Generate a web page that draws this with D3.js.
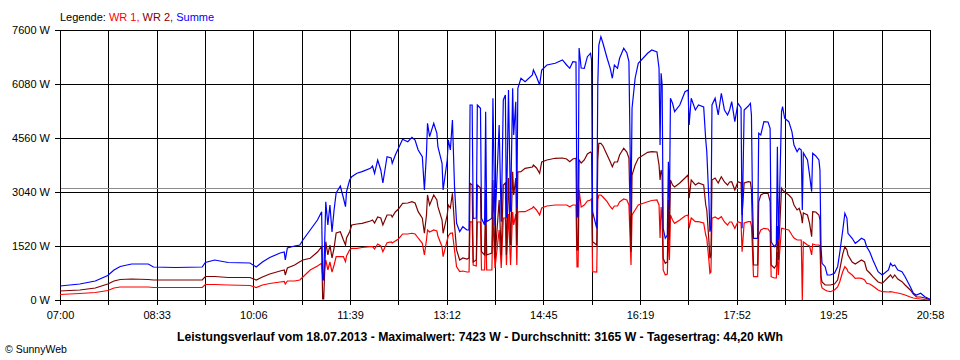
<!DOCTYPE html>
<html><head><meta charset="utf-8">
<script src="https://cdn.jsdelivr.net/npm/d3@7"></script>
<style>
html,body{margin:0;padding:0;background:#fff;}
svg text{font-family:"Liberation Sans",Arial,sans-serif;}
</style></head>
<body><svg id="c" width="960" height="360"></svg>
<script>
const times = ["07:00","07:19","07:34","07:46","07:52","07:58","08:09","08:25","08:30","08:51",
"09:17","09:20","09:29","09:42","10:03","10:09","10:15","10:22","10:32","10:36",
"10:37","10:39","10:46","10:51","10:54","11:01","11:08","11:12","11:13","11:14",
"11:16","11:18","11:20","11:22","11:24","11:26","11:30","11:33","11:35","11:36",
"11:39","11:41","11:46","11:51","11:59","12:01","12:03","12:06","12:09","12:11",
"12:15","12:19","12:20","12:23","12:26","12:30","12:35","12:39","12:42","12:45",
"12:49","12:51","12:53","12:54","12:56","13:00","13:03","13:04","13:08","13:09",
"13:13","13:14","13:16","13:18","13:20","13:22","13:25","13:28","13:32","13:34",
"13:35","13:37","13:38","13:41","13:42","13:45","13:46","13:49","13:50","13:51",
"13:56","13:57","13:59","14:03","14:05","14:07","14:09","14:10","14:12","14:14",
"14:16","14:17","14:19","14:20","14:21","14:24","14:28","14:35","14:36","14:39",
"14:42","14:44","14:49","14:57","15:04","15:08","15:11","15:14","15:17","15:18",
"15:19","15:20","15:22","15:25","15:28","15:31","15:32","15:33","15:37","15:38",
"15:39","15:41","15:43","15:47","15:50","15:52","15:54","15:57","15:59","16:03",
"16:06","16:08","16:10","16:11","16:14","16:17","16:26","16:30","16:35","16:37",
"16:38","16:39","16:40","16:41","16:43","16:45","16:46","16:47","16:48","16:50",
"16:52","16:57","17:02","17:05","17:06","17:08","17:12","17:15","17:20","17:22",
"17:23","17:25","17:26","17:27","17:28","17:31","17:34","17:37","17:40","17:43",
"17:45","17:47","17:50","17:53","17:56","17:57","17:59","18:03","18:05","18:06",
"18:07","18:08","18:12","18:13","18:15","18:18","18:22","18:24","18:25","18:28",
"18:30","18:31","18:32","18:33","18:35","18:36","18:38","18:42","18:45","18:47",
"18:50","18:52","18:54","18:55","18:56","19:00","19:02","19:04","19:05","19:08",
"19:11","19:12","19:13","19:14","19:17","19:19","19:22","19:26","19:29","19:31",
"19:34","19:36","19:38","19:39","19:43","19:46","19:49","19:52","19:55","19:57",
"20:00","20:03","20:08","20:12","20:18","20:20","20:22","20:24","20:27","20:31",
"20:34","20:39","20:42","20:45","20:49","20:53","20:58"];

// Summe (blue)
const summe = [394,450,535,690,845,943,1013,1013,929,915,
929,1056,1126,1056,1042,929,1070,1196,1323,1351,
1126,1464,1520,1548,1689,1971,2252,2486,563,563,
2767,2111,2674,1914,2534,3012,3209,2871,2626,3049,
3378,3471,3567,3612,3707,3772,3567,3941,3660,3294,
4034,3997,3848,4082,4270,4524,4456,4580,4504,4223,
4034,3097,4130,4974,4597,4974,4693,4315,3848,3097,
3941,4504,4223,5067,3189,2159,1923,2063,1971,1971,
5489,5489,2300,2308,5489,5396,2300,2111,5301,2204,
2300,5678,2111,4926,2204,5630,5771,2308,5912,2486,
5959,4645,5582,2581,5959,6241,6145,6334,6475,6286,
6052,6475,6615,6663,6756,6615,6522,6708,6700,2336,
2336,7094,6531,6522,6849,6945,6756,2486,2018,6052,
7178,7412,7226,6804,6522,6241,6615,6522,6804,7085,
6953,6708,2486,5396,6249,6663,6945,7038,6981,6522,
4363,6382,6052,2018,1737,1830,3893,2534,5678,5537,
5301,5489,5864,5912,4926,5678,5349,5489,5433,4504,
4175,2815,1923,2027,5489,5678,5208,5819,5349,5208,
5349,5582,5019,5537,5405,2018,5349,5461,5537,5208,
2815,1737,1737,4693,4645,5019,5011,4833,1641,1500,
1576,4315,1689,2815,5301,5441,5115,5019,4738,4363,
4175,4270,4223,2534,4138,3941,3519,3049,4130,4054,
3941,3660,1500,1033,937,704,704,752,937,1315,
1971,2441,2300,1878,1737,1596,1661,1737,1689,1500,
1351,1126,797,704,845,1033,957,985,845,797,
656,374,189,141,189,93,20];

// WR 2 (dark red)
const wr2 = [253,282,338,450,535,577,591,577,563,563,
563,662,662,633,633,563,647,732,816,845,
704,901,985,1078,1126,1174,1351,1500,28,28,
1641,1267,1548,1182,1464,1886,1923,1689,1548,1745,
1923,2111,2139,2159,2224,2252,2168,2336,2308,2111,
2393,2393,2336,2477,2562,2722,2731,2767,2731,2486,
2300,1878,2393,2956,2674,2956,2815,2626,2252,1878,
2393,2674,2590,3004,2111,1408,1126,1182,1154,1182,
3285,3237,1070,1126,3237,3153,1360,1267,3097,1267,
1323,3378,1174,2815,1267,3237,3294,1267,3434,1548,
3612,2956,3434,1548,3603,3612,3707,3744,3800,3716,
3567,3885,3941,3989,3997,3969,3893,3969,3989,1408,
1408,3941,3857,3941,4110,4166,4138,1641,1548,3941,
4411,4411,4335,4082,3893,3752,3885,3885,4082,4270,
4166,3997,1360,3519,3800,3989,4158,4175,4166,3800,
3378,3660,3519,1174,1033,1070,2815,1689,3378,3237,
3181,3294,3434,3519,2863,3378,3237,3294,3237,2674,
2534,1689,1174,1267,3378,3434,3294,3471,3322,3237,
3322,3330,3097,3330,3294,2393,3294,3330,3322,3097,
1971,985,985,2767,2956,3004,3004,2767,985,901,
985,2083,1126,1914,3144,3097,3040,2956,2863,2674,
2534,2581,2393,2159,2449,2393,2159,1782,2486,2477,
2393,2252,656,507,422,422,422,450,563,845,
1300,1500,1408,1267,1070,1013,1070,1126,1070,845,
760,656,507,470,647,704,619,704,591,515,
422,282,169,84,84,56,14];

// WR 1 (red)
const wr1 = [155,183,211,267,338,366,366,366,352,352,
352,436,436,422,408,352,422,464,507,521,
450,535,535,563,647,845,957,1033,656,656,
1126,845,1070,788,985,1219,1219,1219,1078,1239,
1408,1455,1455,1478,1500,1500,1436,1576,1520,1360,
1613,1633,1605,1661,1717,1858,1858,1878,1858,1745,
1596,1267,1689,1971,1914,1971,1942,1802,1500,1219,
1689,1802,1878,1886,1408,937,797,816,788,788,
2204,2196,985,957,2196,2196,845,845,2111,845,
845,2345,901,1971,901,2308,2308,985,2421,985,
2477,2111,2421,985,2477,2486,2486,2590,2626,2534,
2393,2590,2646,2674,2674,2674,2626,2674,2674,929,
929,3100,2618,2674,2787,2815,2843,797,788,2815,
2956,2956,2899,2767,2626,2562,2646,2646,2759,2843,
2815,2674,985,2393,2534,2674,2767,2801,2815,2674,
1745,2618,2252,845,704,732,1971,1126,2393,2252,
2159,2252,2365,2393,2018,2308,2204,2204,2168,1830,
1737,1126,752,788,2300,2336,2280,2345,2196,2111,
2196,2196,2018,2204,2168,1360,2168,2204,2204,2083,
1408,656,656,1830,1971,2018,1999,1914,656,619,
619,1351,704,1267,2018,2018,1999,1971,1830,1745,
1689,1689,1689,0,1633,1548,1520,1267,1576,1548,
1548,1520,470,338,282,253,234,282,366,507,
800,937,873,797,704,611,619,611,563,470,
450,394,282,234,225,234,225,211,197,169,
141,84,56,42,28,14,0];

const yTicks = [0,1520,3040,4560,6080,7600];
const xTickLabels = ["07:00","08:33","10:06","11:39","13:12","14:45","16:19","17:52","19:25","20:58"];
const durchschnitt = 3165;
const seriesNames = ["WR 1","WR 2","Summe"];
const caption = "Leistungsverlauf vom 18.07.2013 - Maximalwert: 7423 W - Durchschnitt: 3165 W - Tagesertrag: 44,20 kWh";

const colors = {wr1:"#ff0000", wr2:"#800000", summe:"#0000ff"};
const L=60, R=930, T=30, B=300;
const svg = d3.select("#c");
const parse = d3.timeParse("%H:%M");
const t0 = parse(xTickLabels[0]), t1 = parse(xTickLabels[xTickLabels.length-1]);
const x = d3.scaleTime().domain([t0,t1]).range([L,R]);
const y = d3.scaleLinear().domain([0,7600]).range([B,T]);

const nTicks = (xTickLabels.length-1)*2;
const xTickVals = d3.range(nTicks+1).map(i => new Date(+t0 + i*(t1-t0)/nTicks));

// grid
const grid = svg.append("g").attr("shape-rendering","crispEdges");
grid.selectAll("line.v").data(xTickVals).join("line")
  .attr("x1",d=>Math.round(x(d))+0.5).attr("x2",d=>Math.round(x(d))+0.5)
  .attr("y1",T).attr("y2",B).attr("stroke","#000");
grid.selectAll("line.h").data(yTicks).join("line")
  .attr("x1",L).attr("x2",R).attr("y1",d=>Math.round(y(d))+0.5).attr("y2",d=>Math.round(y(d))+0.5)
  .attr("stroke","#000");

// average line
svg.append("line").attr("shape-rendering","crispEdges")
  .attr("x1",L+1).attr("x2",R).attr("y1",Math.round(y(durchschnitt))+0.5).attr("y2",Math.round(y(durchschnitt))+0.5)
  .attr("stroke","#8c8c8c").attr("stroke-width",1.5);

// axes
const yAxis = d3.axisLeft(y).tickValues(yTicks).tickSizeInner(5).tickSizeOuter(0).tickPadding(4)
  .tickFormat(d=>d+" W");
const gy = svg.append("g").attr("transform",`translate(${L},0)`).call(yAxis);
const xAxis = d3.axisBottom(x).tickValues(xTickVals).tickSizeInner(5).tickSizeOuter(0).tickPadding(6)
  .tickFormat((d,i)=> i%2===0 ? xTickLabels[i/2] : "");
const gx = svg.append("g").attr("transform",`translate(0,${B})`).call(xAxis);
[gy,gx].forEach(g=>{
  g.selectAll("text").attr("font-size",11).attr("fill","#000").attr("font-family","'Liberation Sans',Arial,sans-serif");
  g.selectAll("line,path").attr("stroke","#000").attr("shape-rendering","crispEdges");
});
gy.selectAll("text").attr("dx",-1);

// series
const data = times.map((t,i)=>({t:parse(t), wr1:wr1[i], wr2:wr2[i], summe:summe[i]}));
const mk = key => d3.line().x(d=>x(d.t)).y(d=>y(d[key]));
const plot = svg.append("g");
["wr1","wr2","summe"].forEach(k=>{
  plot.append("path").datum(data).attr("d",mk(k)).attr("fill","none")
    .attr("stroke",colors[k]).attr("stroke-width",1.2).attr("stroke-linejoin","miter");
});

// legend
const lg = svg.append("text").attr("x",60).attr("y",21).attr("font-size",11);
lg.append("tspan").attr("fill","#000").text("Legende: ");
lg.append("tspan").attr("fill",colors.wr1).text(seriesNames[0]+", ");
lg.append("tspan").attr("fill",colors.wr2).text(seriesNames[1]+", ");
lg.append("tspan").attr("fill",colors.summe).text(seriesNames[2]);

// caption
svg.append("text").attr("x",480).attr("y",341).attr("text-anchor","middle")
  .attr("font-size",12.2).attr("font-weight","bold").attr("fill","#000").text(caption);
svg.append("text").attr("x",5).attr("y",353).attr("font-size",10.5).attr("fill","#000").text("\u00a9 SunnyWeb");
</script></body></html>
